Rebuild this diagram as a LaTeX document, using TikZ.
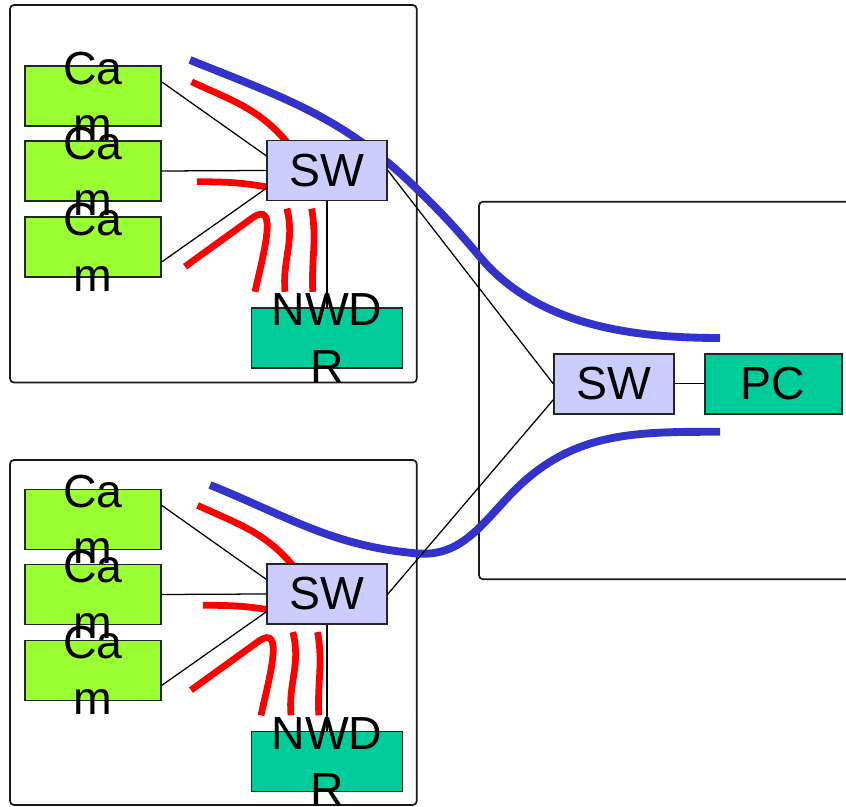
\documentclass[tikz,border=0pt]{standalone}
\usepackage{fontspec}
\setmainfont{Liberation Sans}
\usepackage{tikz}
\definecolor{camGreen}{RGB}{153,255,51}
\definecolor{swBlue}{RGB}{204,204,255}
\definecolor{devGreen}{RGB}{0,204,153}
\definecolor{flowBlue}{RGB}{51,51,204}

\begin{document}
\begin{tikzpicture}[
    box/.style={draw=black!85,line width=1.3pt,inner sep=0pt,minimum height=1.5cm,font=\fontsize{33}{40}\selectfont},
    camBox/.style={box,fill=camGreen,minimum width=3.4cm},
    swBox/.style={box,fill=swBlue,minimum width=3.0cm},
    nwdrBox/.style={box,fill=devGreen,minimum width=3.775cm},
    pcBox/.style={box,fill=devGreen,minimum width=3.42cm},
    txt/.style={align=center,inner sep=0pt,font=\fontsize{33}{40}\selectfont},
    frameBox/.style={draw=black!90,line width=1.2pt,rounded corners=0.1cm},
    link/.style={draw=black,line width=0.9pt},
    redFlow/.style={draw=red,line width=4.8pt},
    blueFlow/.style={draw=flowBlue,line width=5.6pt}
]
    \useasboundingbox (0,0) rectangle (21.15,20.175);
    \clip (0,0) rectangle (21.15,20.175);
    \draw[frameBox] (0.25,10.61) rectangle (10.42,20.05);
    \draw[frameBox] (0.25,0.05) rectangle (10.42,8.675);
    \draw[frameBox] (11.975,5.6925) rectangle (22,15.1325);
    \draw[blueFlow] (4.75,18.675) to[out=-22,in=136] (10.33,15.54) to[out=-44,in=130] (12.0,13.75)
        to[out=-50,in=180,looseness=0.9] (18.0,11.725);
    \draw[blueFlow] (5.25,8.05) to[out=-22,in=175] (10.42,6.34) to[out=-5,in=225] (12.875,7.925)
        to[out=45,in=180] (18.0,9.38);
    \foreach \g/\dx/\dy in {a/0/0,b/0.15/-10.5875}{
      \begin{scope}[yshift=\dy cm]
        \begin{scope}[xshift=\dx cm]
          \draw[redFlow] (4.79,18.13) to[out=-25,in=130] (7.17,16.625);
          \draw[redFlow] (4.92,15.63) to[out=0,in=170] (6.67,15.5);
          \draw[redFlow] (4.625,13.51) -- (6.3,14.72) to[out=36,in=78,looseness=1.2] (6.375,12.88);
          \draw[redFlow] (7.17,14.96) to[out=-75,in=95] (7.125,12.88);
          \draw[redFlow] (7.79,14.96) to[out=-80,in=93] (7.82,12.88);
        \end{scope}
        \node[camBox] (cam1\g) at (2.325,17.775) {};
        \node[camBox] (cam2\g) at (2.325,15.9) {};
        \node[camBox] (cam3\g) at (2.325,14.0) {};
        \node[swBox] (sw\g) at (8.175,15.9125) {SW};
        \node[nwdrBox] (nwdr\g) at (8.175,11.725) {};
        \draw[link] ([yshift=0.35cm]cam1\g.east) -- ([yshift=0.37cm]sw\g.west);
        \draw[link] (cam2\g.east) -- (sw\g.west);
        \draw[link] ([yshift=-0.37cm]cam3\g.east) -- ([yshift=-0.45cm]sw\g.west);
        \draw[link] (sw\g.south) -- (nwdr\g.north);
        \node[txt] (cam1\g text) at (cam1\g) {Ca\\m};
        \node[txt] (cam2\g text) at (cam2\g) {Ca\\m};
        \node[txt] (cam3\g text) at (cam3\g) {Ca\\m};
        \node[txt] (nwdr\g text) at (nwdr\g) {NWD\\R};
      \end{scope}
    }
    \node[swBox] (swc) at (15.355,10.58) {SW};
    \node[pcBox] (pc) at (19.33,10.58) {PC};
    \draw[link] (swc.east) -- (pc.west);
    \draw[link] (swa.east) -- (swc.west);
    \draw[link] (swb.east) -- ([yshift=-0.4cm]swc.west);
\end{tikzpicture}
\end{document}
